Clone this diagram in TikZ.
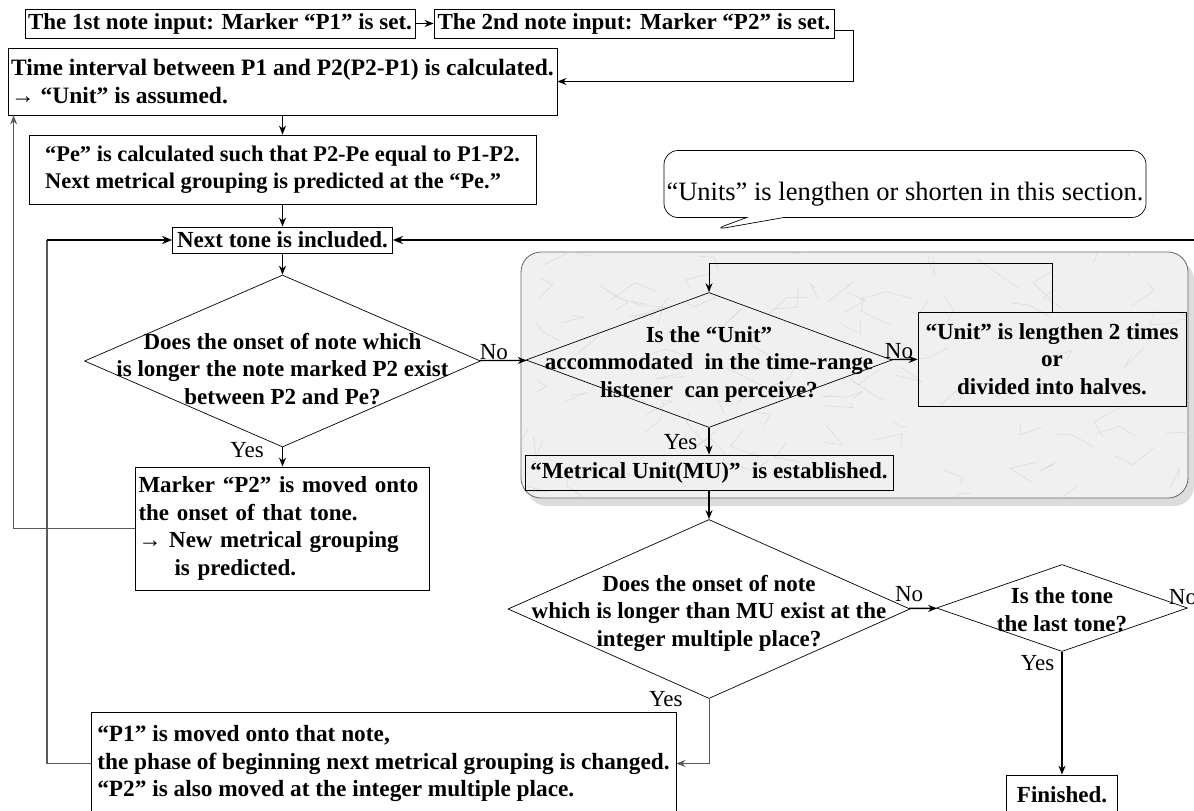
\documentclass[tikz,border=0pt]{standalone}
\usepackage{fontspec}
\setmainfont{Liberation Serif}
\usetikzlibrary{arrows.meta,positioning,shapes.geometric,shapes.callouts,shadows}

\newcommand{\boxfont}{\fontsize{23}{27.5}\selectfont\bfseries}
\newcommand{\sizedfont}[1]{\fontsize{#1}{27.5}\selectfont\bfseries}
\newcommand{\dtext}[2][0pt]{\smash{\makebox[0pt]{\raisebox{\dimexpr-0.45em-#1\relax}{\begin{tabular}{@{}c@{}}#2\end{tabular}}}}}

\begin{document}
\begin{tikzpicture}[x=1pt, y=-1pt,
  box/.style={draw, line width=0.8pt, inner sep=0pt, font=\boxfont},
  textbox/.style={box, align=left},
  decision/.style={diamond, draw, line width=0.7pt, inner sep=0pt, font=\boxfont},
  arrow/.style={-{Stealth[length=9pt,width=7pt]}, line width=1.4pt},
  thin arrow/.style={-{Stealth[length=9pt,width=7pt]}, line width=0.8pt},
  back/.style={draw=black!65, line width=1.4pt},
  main line/.style={-{Stealth[length=10pt,width=8pt]}, line width=2.6pt},
  lbl/.style={font=\fontsize{23}{23}\selectfont, inner sep=0pt}
]
\useasboundingbox (0,0) rectangle (1194,811);

% section where the unit is adjusted
\path[draw=black!60, line width=0.8pt, fill=gray!12, rounded corners=20pt,
  drop shadow={shadow xshift=6pt, shadow yshift=-8pt, fill=gray!55}] (521,252) rectangle (1188,498);
\begin{scope}
  \clip[rounded corners=20pt] (521,252) rectangle (1188,498);
  \pgfmathsetseed{11}
  \foreach \i in {1,...,90}{
    \pgfmathsetmacro{\xa}{521+667*rnd}
    \pgfmathsetmacro{\ya}{252+246*rnd}
    \draw[gray!30, line width=0.5pt] (\xa,\ya) -- ++(30*rand,20*rand) -- ++(30*rand,20*rand);
  }
\end{scope}

% nodes
\node[box, minimum width=390pt, minimum height=29pt] (in1) at (220,23.5) {The 1st note input: Marker “P1” is set.};
\node[box, minimum width=400pt, minimum height=29pt] (in2) at (634,23.5) {The 2nd note input: Marker “P2” is set.};
\node[textbox, font=\sizedfont{23.5}, minimum width=549pt, minimum height=67pt] (calc) at (282.5,81.5) {Time interval between P1 and P2(P2-P1) is calculated.\\→ “Unit” is assumed.};
\node[textbox, font=\sizedfont{22.4}, minimum width=507pt, minimum height=69pt] (pe) at (282.5,169.5) {“Pe” is calculated such that P2-Pe equal to P1-P2.\\Next metrical grouping is predicted at the “Pe.”};
\node[box, minimum width=220pt, minimum height=26pt] (next) at (282.5,240) {Next tone is included.};
\node[decision, minimum width=396pt, minimum height=172pt] (dec1) at (282.5,361) {\dtext[6pt]{Does the onset of note which\\is longer the note marked P2 exist\\between P2 and Pe?}};
\node[textbox, text width=288pt, inner xsep=3pt, minimum height=123pt] (mark) at (282.5,528.5) {Marker “P2” is moved onto\\the onset of that tone.\\→ New metrical grouping\\\hspace*{36pt}is predicted.};
\node[decision, minimum width=366pt, minimum height=135pt] (dec2) at (709,360) {\dtext{Is the “Unit”\\accommodated\ \ in the time-range\\listener\ \ can perceive?}};
\node[box, minimum width=268pt, minimum height=94pt, align=center] (unit) at (1052,359) {“Unit” is lengthen 2 times\\or\\divided into halves.};
\node[box, minimum width=368pt, minimum height=35pt] (mu) at (709,472.5) {“Metrical Unit(MU)”\ \ is established.};
\node[decision, minimum width=402pt, minimum height=179pt] (dec3) at (709,609) {\dtext{Does the onset of note\\which is longer than MU exist at the\\integer multiple place?}};
\node[decision, minimum width=251pt, minimum height=87pt] (dec4) at (1062,608) {\dtext{Is the tone\\the last tone?}};
\node[textbox, font=\sizedfont{23.3}, minimum width=585pt, minimum height=103pt] (p1) at (383.5,763.5) {“P1” is moved onto that note,\\the phase of beginning next metrical grouping is changed.\\“P2” is also moved at the integer multiple place.};
\node[box, minimum width=111pt, minimum height=40pt] (fin) at (1062,795) {Finished.};
\node[rectangle callout, draw, line width=0.7pt, rounded corners=14pt, minimum width=482pt, minimum height=67pt, inner sep=0pt,
  callout absolute pointer={(713,230)}, callout pointer width=37pt, font=\fontsize{26.5}{26.5}\selectfont] (note) at (905,184) {\raisebox{-16pt}[0pt][0pt]{“Units” is lengthen or shorten in this section.}};
\node[lbl] (lastno) at (1183,597) {No};

\coordinate (loop) at (709,263);
\coordinate (retl) at (47,240);
\coordinate (retr) at (1194,240);

% connectors
\draw[thin arrow] (in1) -- (in2);
\draw[arrow] ([yshift=-7pt]in2.east) -- ++(19,0) |- (calc.east);
\draw[arrow] (calc) -- (pe);
\draw[arrow] (pe) -- (next);
\draw[arrow] (next) -- (dec1);
\draw[arrow] (dec1) -- node[lbl, above, pos=0.3] {No} (dec2);
\draw[arrow] (dec1) -- node[lbl, left, pos=0.15, xshift=-18pt] {Yes} (mark);
\draw[back, -{Stealth[length=9pt,width=7pt]}] (mark.west) -| ([xshift=6pt]calc.south west);
\draw[thin arrow] (unit.north) |- (loop) -- (dec2.north);
\draw[arrow] (dec2) -- node[lbl, above, pos=0.3] {No} (unit);
\draw[arrow] (dec2) -- node[lbl, left, pos=0.55, xshift=-11pt] {Yes} (mu);
\draw[arrow] (mu) -- (dec3);
\draw[arrow] (dec3) -- node[lbl, above, pos=0, yshift=6pt] {No} (dec4);
\draw[arrow] (dec4) -- node[lbl, left, pos=0.09, xshift=-7pt] {Yes} (fin);
\draw[thin arrow, draw=black!65] (dec3.south) |- node[lbl, pos=0, left, xshift=-26pt] {Yes} (p1.east);
\draw[back] (p1.west) -| (retl);
\draw[main line] (retl) -- (next.west);
\draw[main line] (retr) -- (next.east);
\end{tikzpicture}
\end{document}
